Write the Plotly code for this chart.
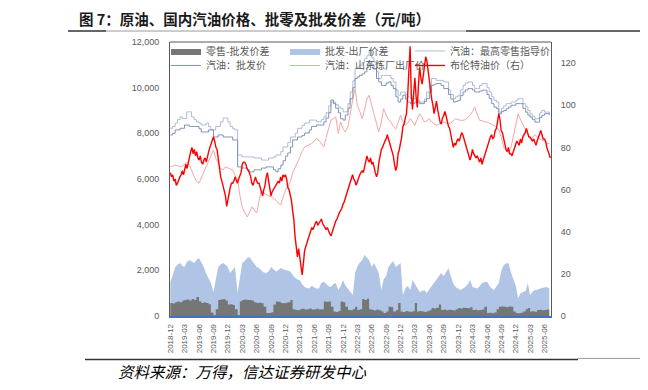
import pandas as pd
import plotly.graph_objects as go

# ---------------- data ----------------
# semi-monthly grid for the domestic price series
dates = pd.date_range("2018-12-01", periods=159, freq="SMS")
# finer grid (about 4 per month) for Brent
dates_brent = pd.date_range("2018-12-01", "2025-07-08", periods=318)

left_ticks = [0, 2000, 4000, 6000, 8000, 10000, 12000]
right_ticks = [0, 20, 40, 60, 80, 100, 120]

# 布伦特油价（右） USD/bbl
brent = [
    68, 66, 67, 64, 65, 62, 63, 65, 66, 67, 69, 67, 70, 72, 70, 73, 76, 78, 80, 77,
    79, 76, 78, 75, 74, 76, 73, 72, 74, 75, 73, 76, 78, 80, 82, 84, 85, 83, 80, 79,
    74, 70, 66, 64, 62, 60, 57, 52, 56, 58, 61, 63, 63, 64, 66, 64, 63, 65, 67, 68,
    72, 73, 73, 72, 70, 69, 68, 66, 63, 62, 64, 66, 64, 63, 63, 61, 59, 57, 60, 62,
    66, 68, 64, 60, 57, 59, 60, 61, 62, 63, 64, 63, 66, 64, 67, 66, 67, 65, 61, 60,
    57, 55, 50, 46, 38, 33, 28, 32, 27, 23, 19.5, 25, 31, 33, 35, 36, 39, 40, 42, 41,
    43, 44, 45, 43, 44, 45, 46, 44, 43, 42, 41, 42, 40, 39, 38, 40, 42, 43, 45, 46,
    48, 49, 50, 51, 53, 54, 56, 58, 60, 61, 63, 66, 67, 65, 64, 62, 64, 65, 67, 68,
    69, 68, 71, 73, 76, 74, 73, 75, 72, 73, 70, 68, 66, 68, 73, 76, 79, 80, 82, 83,
    84, 86, 84, 82, 81, 79, 76, 72, 69, 71, 77, 79, 82, 85, 90, 91, 94, 96, 105, 118,
    128, 105, 98, 106, 113, 104, 99, 110, 118, 113, 110, 114, 119, 123, 121, 116, 112, 108, 103, 100,
    96, 99, 102, 98, 94, 92, 91, 94, 95, 97, 95, 92, 90, 89, 86, 83, 80, 82, 81, 83,
    84, 83, 85, 87, 86, 84, 81, 80, 77, 75, 74, 76, 79, 77, 76, 75, 76, 74, 73, 75,
    72, 74, 76, 78, 80, 82, 83, 85, 86, 84, 85, 88, 89, 92, 96, 93, 88, 87, 84, 82,
    79, 78, 80, 77, 77, 76, 78, 79, 81, 83, 82, 81, 84, 82, 85, 86, 87, 89, 87, 85,
    85, 84, 83, 84, 82, 81, 83, 85, 86, 88, 86, 84, 84, 83, 80, 78, 77, 75,
]

# 汽油：最高零售指导价 (元/吨)
retail = [
    8220, 8300, 8450, 8600, 8720, 8650, 8650, 8940, 8940, 8720,
    8600, 8500, 8450, 8365, 8365, 8450, 8300, 8150, 8150, 8300,
    8300, 8500, 8670, 8670, 8500, 8300, 8200, 8150, 7050, 7050,
    6970, 6970, 6970, 6970, 6970, 6920, 6920, 6920, 6830, 6830,
    6830, 6920, 6920, 6970, 7050, 7050, 7200, 7400, 7400, 7600,
    7840, 7840, 8000, 8220, 8220, 8350, 8450, 8450, 8580, 8580,
    8580, 8500, 8500, 8600, 8720, 8900, 9200, 9370, 9370, 9250,
    9150, 9080, 8940, 8940, 9300, 9810, 10300, 10830, 10900, 10980,
    11100, 11270, 11400, 11640, 11300, 11125, 10700, 10400, 10540, 10540,
    10540, 10540, 10400, 10250, 9900, 9670, 9810, 9810, 9700, 9600,
    9520, 9520, 9520, 9450, 9370, 9370, 9500, 9810, 10100, 10400,
    10400, 10320, 10320, 10320, 10250, 10250, 9900, 9700, 9520, 9600,
    9670, 9900, 10100, 10200, 10250, 10250, 10100, 9960, 9960, 10100,
    10180, 10180, 10000, 9810, 9600, 9450, 9370, 8930, 9100, 9200,
    9300, 9300, 9370, 9370, 9450, 9520, 9520, 9300, 9160, 9000,
    8860, 8750, 8640, 8640, 8900, 9010, 8930, 8930, 8860,
]

# 汽油：批发价 (元/吨)
wholesale = [
    7930, 8000, 8150, 8150, 8220, 8220, 8365, 8365, 8300, 8300,
    8300, 8300, 8200, 8060, 8060, 8060, 8150, 8150, 7840, 7840,
    7930, 7930, 7840, 7840, 7840, 7840, 7710, 7710, 6530, 6530,
    6480, 6480, 6400, 6310, 6310, 6400, 6400, 6400, 6480, 6480,
    6530, 6530, 6530, 6400, 6310, 6450, 6610, 6800, 7000, 7140,
    7400, 7710, 7710, 7840, 7840, 7900, 8015, 8015, 8150, 8300,
    8300, 8365, 8365, 8365, 8500, 8670, 8900, 9460, 9300, 9100,
    8900, 8640, 8580, 8800, 9100, 9520, 10000, 10400, 10470, 10540,
    10600, 10690, 10900, 11125, 11000, 10830, 10400, 10250, 10100, 10100,
    10200, 10250, 10100, 9960, 9600, 9370, 9500, 9670, 9500, 9370,
    9300, 9300, 9370, 9370, 9300, 9300, 9400, 9520, 9800, 10100,
    10150, 10180, 10180, 10100, 9960, 9960, 9700, 9500, 9370, 9400,
    9450, 9650, 9810, 9900, 9960, 9960, 9900, 9810, 9810, 9850,
    9890, 9890, 9700, 9520, 9300, 9150, 9080, 8860, 8950, 9000,
    9080, 9150, 9230, 9230, 9300, 9300, 9300, 9100, 8930, 8800,
    8710, 8600, 8490, 8490, 8700, 8790, 8860, 8860, 8800,
]

# 汽油：山东炼厂出厂价 (元/吨)
shandong = [
    6530, 6580, 6610, 6580, 6530, 6550, 6650, 6750, 6600, 6350,
    6100, 5900, 5820, 6050, 6260, 6500, 6750, 7000, 7270, 6900,
    6700, 6450, 6400, 6530, 6480, 6420, 6400, 6150, 5960, 5300,
    4780, 4550, 4340, 4500, 4780, 4650, 4510, 5000, 5520, 5400,
    5300, 5250, 5230, 5150, 5080, 4950, 4870, 5200, 5520, 5670,
    5900, 6260, 6500, 6750, 6950, 7200, 7400, 7450, 7500, 7550,
    7650, 7780, 7700, 7550, 7400, 7800, 8200, 8580, 8650, 8720,
    8000, 8500, 8200, 8060, 8300, 8930, 9500, 9960, 9230, 9000,
    8640, 9000, 9500, 9670, 9200, 8790, 8400, 8060, 8500, 9080,
    8800, 8600, 8500, 8300, 8200, 8500, 8790, 8500, 8350, 8450,
    8640, 8500, 8350, 8600, 8860, 8700, 8500, 8550, 8640, 8500,
    8400, 8350, 8400, 8450, 8500, 8450, 8420, 8450, 8550, 8640,
    8600, 8570, 8570, 8600, 8700, 8790, 8950, 9160, 8800, 8570,
    8550, 8500, 8500, 8450, 8420, 8350, 8250, 8150, 7800, 7400,
    7250, 7150, 7400, 7900, 8500, 8850, 8580, 8350, 8150, 7950,
    7750, 7800, 7950, 7850, 7750, 7700, 7650, 7570, 7550,
]

# 批发-出厂价差 (元/吨)
spread_wf = [
    1500, 1750, 2150, 2250, 2320, 2200, 2150, 2350, 2450, 2380,
    2320, 2450, 2540, 2350, 2150, 1880, 1600, 1445, 1050, 1600,
    2150, 2250, 2320, 2250, 2150, 1880, 2050, 2150, 1000, 1580,
    2320, 2400, 2540, 2585, 2450, 2320, 2150, 2100, 2015, 1900,
    1880, 1950, 2150, 2050, 1950, 2000, 2100, 2050, 2015, 1980,
    1950, 1800, 1660, 1600, 1580, 1400, 1270, 1230, 1200, 1330,
    1260, 1200, 1200, 1445, 1500, 1400, 1300, 1270, 1400, 1445,
    1140, 1300, 1580, 1350, 1200, 1050, 920, 1880, 2150, 2320,
    2450, 2670, 2550, 2450, 2150, 2320, 2100, 1880, 1140, 1600,
    1750, 2150, 2300, 2400, 2150, 2250, 2320, 920, 1200, 1330,
    1140, 1580, 1400, 1270, 1050, 1100, 1140, 1000, 1140, 1300,
    1445, 1580, 1700, 1880, 1750, 1900, 2100, 1750, 1400, 1270,
    1200, 1140, 1200, 1270, 1400, 1580, 1270, 1250, 1200, 1300,
    1445, 1480, 1500, 1350, 1200, 1140, 1300, 1445, 2015, 2230,
    2300, 2320, 1880, 1600, 1330, 790, 1000, 1050, 1100, 1445,
    920, 1050, 1140, 1150, 1200, 1230, 1250, 1270, 1200,
]

# 零售-批发价差 (元/吨)
spread_rw = [
    570, 550, 600, 640, 600, 680, 700, 720, 680, 750,
    700, 830, 650, 570, 600, 570, 520, 150, 40, 300,
    700, 720, 750, 680, 500, 520, 480, 300, 40, 650,
    700, 720, 700, 700, 680, 600, 570, 580, 560, 400,
    130, 130, 160, 500, 640, 620, 570, 560, 580, 600,
    700, 300, 260, 250, 300, 320, 280, 300, 330, 290,
    300, 320, 280, 300, 640, 620, 640, 400, 200, 180,
    220, 640, 600, 400, 260, 250, 300, 400, 260, 300,
    750, 700, 760, 300, 260, 240, 280, 250, 200, 130,
    200, 400, 380, 200, 250, 570, 200, 180, 220, 200,
    190, 210, 570, 200, 220, 200, 180, 210, 250, 350,
    330, 360, 500, 260, 280, 250, 270, 260, 240, 300,
    350, 330, 360, 350, 340, 380, 260, 270, 250, 260,
    280, 400, 130, 140, 120, 150, 300, 400, 420, 400,
    380, 420, 400, 200, 130, 120, 140, 200, 300, 350,
    200, 210, 190, 260, 270, 250, 260, 280, 240,
]

# ---------------- layout helpers ----------------
# The page body has an 8px margin, so the figure is drawn 8px in from the window edge.
OFF = 8
W, H = 648 - OFF, 390 - OFF
PLOT_LEFT, PLOT_RIGHT, PLOT_TOP, PLOT_BOTTOM = 170, 551, 42, 316.5   # window pixels
L = PLOT_LEFT - OFF
T = PLOT_TOP - OFF
R = W - (PLOT_RIGHT - OFF)
B = H - (PLOT_BOTTOM - OFF)
PW = W - L - R
PH = H - T - B


def px(x):
    """window x-pixel -> paper x"""
    return (x - OFF - L) / PW


def py(y):
    """window y-pixel -> paper y"""
    return 1 - (y - OFF - T) / PH


CJK = "Noto Sans CJK SC"
TICKF = "Liberation Sans"
GREY_TXT = "#595959"

fig = go.Figure()

fig.add_trace(go.Scatter(
    x=dates, y=spread_wf, name="批发-出厂价差", mode="lines",
    line=dict(width=0, color="#b0c4e6"), fill="tozeroy", fillcolor="#b0c4e6",
    legend="legend2", hoverinfo="skip"))
fig.add_trace(go.Scatter(
    x=dates, y=spread_rw, name="零售-批发价差", mode="lines",
    line=dict(width=0, color="#767676", shape="hv"), fill="tozeroy", fillcolor="#767676",
    legend="legend", hoverinfo="skip"))
fig.add_trace(go.Scatter(
    x=dates, y=shandong, name="汽油：山东炼厂出厂价", mode="lines",
    line=dict(width=1, color="#f6a5a5"), legend="legend5"))
fig.add_trace(go.Scatter(
    x=dates, y=retail, name="汽油：最高零售指导价", mode="lines",
    line=dict(width=1, color="#aebbd4", shape="hv"), legend="legend3"))
fig.add_trace(go.Scatter(
    x=dates, y=wholesale, name="汽油：批发价", mode="lines",
    line=dict(width=1, color="#7f93b5", shape="hv"), legend="legend4"))
fig.add_trace(go.Scatter(
    x=dates_brent, y=brent, name="布伦特油价（右）", mode="lines",
    line=dict(width=1.4, color="#ff0000"), yaxis="y2", legend="legend6"))

legend_common = dict(
    orientation="h", xanchor="left", yanchor="middle", bgcolor="rgba(0,0,0,0)",
    borderwidth=0, itemwidth=30,
    font=dict(family=CJK, size=10, color=GREY_TXT),
)
COLS = [166, 285, 410]     # window x of each legend column
ROWS = [51, 65.5]          # window y of each legend row

fig.update_layout(
    width=W, height=H, margin=dict(l=L, r=R, t=T, b=B, pad=0),
    paper_bgcolor="white", plot_bgcolor="white",
    font=dict(family=CJK, size=10, color=GREY_TXT),
    showlegend=True,
    xaxis=dict(
        type="date", range=["2018-11-29", "2025-07-12"], tick0="2018-12-01", dtick="M3",
        tickformat="%Y-%m", tickangle=-90, showgrid=False, zeroline=False,
        showline=True, linecolor="#4472c4", linewidth=1.5, ticks="",
        tickfont=dict(family=TICKF, size=8, color=GREY_TXT), ticklabelstandoff=3,
    ),
    yaxis=dict(
        range=[0, 12000], tickvals=left_ticks, tickformat=",d", showgrid=False,
        zeroline=False, showline=True, linecolor="#595959", linewidth=1, ticks="",
        tickfont=dict(family=TICKF, size=9, color=GREY_TXT), ticklabelstandoff=8,
    ),
    yaxis2=dict(
        overlaying="y", side="right", range=[0, 130], tickvals=right_ticks,
        showgrid=False, zeroline=False, showline=True, linecolor="#595959", linewidth=1,
        ticks="", tickfont=dict(family=TICKF, size=9, color=GREY_TXT), ticklabelstandoff=7,
    ),
    legend=dict(x=px(COLS[0]), y=py(ROWS[0]), **legend_common),
    legend2=dict(x=px(COLS[1]), y=py(ROWS[0]), **legend_common),
    legend3=dict(x=px(COLS[2]), y=py(ROWS[0]), **legend_common),
    legend4=dict(x=px(COLS[0]), y=py(ROWS[1]), **legend_common),
    legend5=dict(x=px(COLS[1]), y=py(ROWS[1]), **legend_common),
    legend6=dict(x=px(COLS[2]), y=py(ROWS[1]), **legend_common),
)

shapes = [
    # top border of plot frame
    dict(type="line", xref="paper", yref="paper", x0=0, x1=1, y0=1, y1=1,
         line=dict(color="#595959", width=1)),
    # rule under title
    dict(type="line", xref="paper", yref="paper", x0=px(68), x1=px(106), y0=py(31), y1=py(31),
         line=dict(color="#333333", width=1.5)),
    dict(type="line", xref="paper", yref="paper", x0=px(106), x1=px(466), y0=py(31), y1=py(31),
         line=dict(color="#9a9a9a", width=1)),
    dict(type="line", xref="paper", yref="paper", x0=px(466), x1=px(648), y0=py(31), y1=py(31),
         line=dict(color="#333333", width=1.5)),
    # rule above source
    dict(type="line", xref="paper", yref="paper", x0=px(85), x1=px(578), y0=py(360), y1=py(360),
         line=dict(color="#333333", width=1.5)),
    dict(type="line", xref="paper", yref="paper", x0=px(578), x1=px(648), y0=py(359), y1=py(359),
         line=dict(color="#9a9a9a", width=1)),
]
fig.update_layout(shapes=shapes)

fig.add_annotation(
    text="<b>图 7：原油、国内汽油价格、批零及批发价差（元/吨）</b>",
    xref="paper", yref="paper", x=px(77), y=py(18), xanchor="left", yanchor="middle",
    showarrow=False, font=dict(family=CJK, size=14.5, color="#1a1a1a"))
fig.add_annotation(
    text="<b>图</b>", xref="paper", yref="paper", x=px(640), y=py(18),
    xanchor="left", yanchor="middle", showarrow=False,
    font=dict(family=CJK, size=14.5, color="#1a1a1a"))
fig.add_annotation(
    text="资料来源：万得，信达证券研发中心",
    xref="paper", yref="paper", x=px(116), y=py(372), xanchor="left", yanchor="middle",
    showarrow=False, font=dict(family=CJK, size=15.5, color="#000000", style="italic"))

fig.write_html("out.html")
